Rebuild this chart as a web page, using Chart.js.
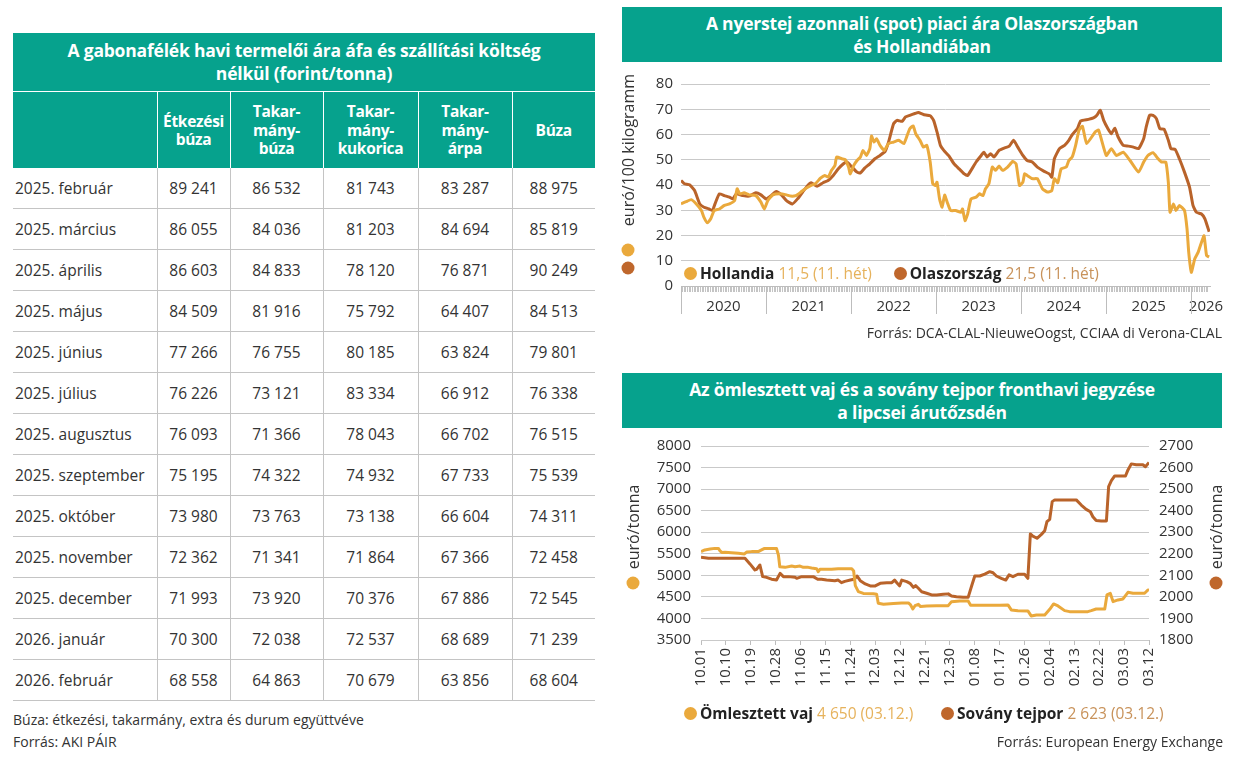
<!DOCTYPE html>
<html lang="hu">
<head>
<meta charset="utf-8">
<script src="https://cdn.jsdelivr.net/npm/chart.js@4.4.1/dist/chart.umd.min.js"></script>
<style>
  body { margin: 0; width: 1242px; height: 766px; background: #fff; position: relative; overflow: hidden;
         font-family: "Open Sans", "Noto Sans", sans-serif; color: #333; }
  .abs { position: absolute; }
  .band { position: absolute; background: #06a28d; color: #fff; font-weight: 700; text-align: center;
          display: flex; align-items: center; justify-content: center; font-size: 17.5px; line-height: 23px;
          letter-spacing: -0.2px; }
  table { position: absolute; left: 13px; top: 92px; border-collapse: collapse; table-layout: fixed; width: 582px; }
  th { background: #06a28d; color: #fff; font-weight: 700; font-size: 15.5px; line-height: 18.5px; height: 76px;
       padding: 0; border-left: 1.5px solid #fff; letter-spacing: -0.3px; }
  th:first-child { border-left: none; }
  td { height: 40px; padding: 0; font-size: 15.5px; text-align: center; border-bottom: 1px solid #c4c4c4;
       border-left: 1px solid #c4c4c4; white-space: nowrap; }
  td:first-child { text-align: left; padding-left: 2px; border-left: none; }
  .dot { position: absolute; width: 13px; height: 13px; border-radius: 50%; transform: translate(-50%, -50%); }
  .rot { position: absolute; transform: translate(-50%, -50%) rotate(-90deg); white-space: nowrap; font-size: 16px; }
  .legend { position: absolute; font-size: 15.5px; white-space: nowrap; line-height: 20px; }
  .legend b { color: #222; }
  .ldot { display: inline-block; width: 13px; height: 13px; border-radius: 50%; vertical-align: -1px; margin-right: 3px; }
  .note { position: absolute; font-size: 14px; white-space: nowrap; color: #333; }
</style>
</head>
<body>

<!-- left: table -->
<div class="band" style="left:13px;top:33px;width:582px;height:58px;">A gabonafélék havi termelői ára áfa és szállítási költség<br>nélkül (forint/tonna)</div>
<table id="grainTable"></table>
<div class="note" style="left:13px;top:710px;">Búza: étkezési, takarmány, extra és durum együttvéve</div>
<div class="note" style="left:13px;top:732px;">Forrás: AKI PÁIR</div>

<!-- right top: milk spot price -->
<div class="band" style="left:622px;top:7px;width:600px;height:55px;">A nyerstej azonnali (spot) piaci ára Olaszországban<br>és Hollandiában</div>
<canvas id="milkChart" class="abs" style="left:620px;top:66px;width:615px;height:262px;" width="615" height="262"></canvas>
<div class="rot" style="left:628px;top:150px;">euró/100 kilogramm</div>
<div class="dot" style="left:628px;top:250px;background:#eaa93c;"></div>
<div class="dot" style="left:628px;top:268px;background:#bf672c;"></div>
<div class="legend" style="left:684px;top:263px;">
  <span class="ldot" style="background:#eaa93c;"></span><b>Hollandia</b> <span style="color:#e6b25c;">11,5 (11. hét)</span>
  <span class="ldot" style="background:#bf672c;margin-left:18px;"></span><b>Olaszország</b> <span style="color:#c8925a;">21,5 (11. hét)</span>
</div>
<div class="note" style="right:20px;top:323px;">Forrás: DCA-CLAL-NieuweOogst, CCIAA di Verona-CLAL</div>

<!-- right bottom: butter & SMP -->
<div class="band" style="left:622px;top:373px;width:600px;height:55px;">Az ömlesztett vaj és a sovány tejpor fronthavi jegyzése<br>a lipcsei árutőzsdén</div>
<canvas id="dairyChart" class="abs" style="left:630px;top:426px;width:590px;height:280px;" width="590" height="280"></canvas>
<div class="rot" style="left:633px;top:527px;">euró/tonna</div>
<div class="dot" style="left:633px;top:583px;background:#eaa93c;"></div>
<div class="rot" style="left:1216px;top:527px;">euró/tonna</div>
<div class="dot" style="left:1216px;top:583px;background:#bf672c;"></div>
<div class="legend" style="left:684px;top:703px;">
  <span class="ldot" style="background:#eaa93c;"></span><b>Ömlesztett vaj</b> <span style="color:#e6b25c;">4 650 (03.12.)</span>
</div>
<div class="legend" style="left:941px;top:703px;">
  <span class="ldot" style="background:#bf672c;"></span><b>Sovány tejpor</b> <span style="color:#c8925a;">2 623 (03.12.)</span>
</div>
<div class="note" style="right:19px;top:732px;">Forrás: European Energy Exchange</div>

<script>
// ---- table data (forint/tonna) ----
const months = ['2025. február', '2025. március', '2025. április', '2025. május', '2025. június', '2025. július',
  '2025. augusztus', '2025. szeptember', '2025. október', '2025. november', '2025. december', '2026. január', '2026. február'];
const etkezesiBuza      = [89241, 86055, 86603, 84509, 77266, 76226, 76093, 75195, 73980, 72362, 71993, 70300, 68558];
const takarmanyBuza     = [86532, 84036, 84833, 81916, 76755, 73121, 71366, 74322, 73763, 71341, 73920, 72038, 64863];
const takarmanyKukorica = [81743, 81203, 78120, 75792, 80185, 83334, 78043, 74932, 73138, 71864, 70376, 72537, 70679];
const takarmanyArpa     = [83287, 84694, 76871, 64407, 63824, 66912, 66702, 67733, 66604, 67366, 67886, 68689, 63856];
const buza              = [88975, 85819, 90249, 84513, 79801, 76338, 76515, 75539, 74311, 72458, 72545, 71239, 68604];
const tableHeaders = ['', 'Étkezési<br>búza', 'Takar-<br>mány-<br>búza', 'Takar-<br>mány-<br>kukorica', 'Takar-<br>mány-<br>árpa', 'Búza'];
const colWidths = [144, 73, 93, 95, 94, 83];

// ---- milk spot price, euró/100 kg (x = year) ----
const hollYears = [2020.00, 2020.06, 2020.12, 2020.18, 2020.24, 2020.27, 2020.31, 2020.35, 2020.39, 2020.45, 2020.51, 2020.57,
  2020.63, 2020.66, 2020.69, 2020.74, 2020.80, 2020.88, 2020.94, 2020.98, 2021.02, 2021.08, 2021.16, 2021.24, 2021.29, 2021.35,
  2021.41, 2021.47, 2021.53, 2021.58, 2021.64, 2021.69, 2021.73, 2021.77, 2021.81, 2021.83, 2021.89, 2021.93, 2021.97, 2021.99,
  2022.03, 2022.07, 2022.11, 2022.14, 2022.18, 2022.22, 2022.24, 2022.27, 2022.30, 2022.34, 2022.39, 2022.44, 2022.50, 2022.56,
  2022.62, 2022.66, 2022.69, 2022.73, 2022.76, 2022.81, 2022.85, 2022.89, 2022.93, 2022.96, 2022.99, 2023.01, 2023.04, 2023.07,
  2023.10, 2023.13, 2023.17, 2023.23, 2023.29, 2023.31, 2023.34, 2023.37, 2023.41, 2023.47, 2023.51, 2023.55, 2023.58, 2023.62,
  2023.66, 2023.70, 2023.74, 2023.78, 2023.84, 2023.90, 2023.94, 2023.98, 2024.02, 2024.04, 2024.07, 2024.13, 2024.19, 2024.25,
  2024.31, 2024.36, 2024.39, 2024.43, 2024.47, 2024.53, 2024.56, 2024.60, 2024.64, 2024.68, 2024.72, 2024.77, 2024.87, 2024.91,
  2025.00, 2025.06, 2025.12, 2025.20, 2025.28, 2025.38, 2025.44, 2025.49, 2025.55, 2025.61, 2025.65, 2025.70, 2025.73, 2025.75,
  2025.79, 2025.82, 2025.86, 2025.92, 2025.95, 2025.97, 2026.00, 2026.04, 2026.08, 2026.12, 2026.15, 2026.18, 2026.21];
const hollValues = [32.5, 33.4, 34.2, 32.5, 29.9, 27.2, 25.0, 26.6, 29.9, 30.5, 31.9, 32.5,
  33.8, 38.5, 36.5, 36.9, 36.1, 35.8, 33.2, 30.5, 33.8, 36.1, 36.5, 36.1, 35.6, 35.8,
  37.2, 38.7, 39.8, 40.5, 42.7, 43.8, 43.1, 45.8, 47.7, 51.1, 50.4, 50.1, 47.1, 44.4,
  47.7, 49.7, 51.1, 53.7, 51.7, 54.4, 59.4, 57.0, 58.3, 55.7, 53.7, 56.4, 57.0, 57.7,
  56.4, 59.7, 62.3, 63.4, 60.3, 57.7, 55.0, 55.7, 49.1, 40.5, 39.8, 41.1, 34.5, 31.2,
  36.0, 33.2, 29.9, 29.9, 29.2, 30.5, 25.9, 28.5, 34.5, 35.2, 36.5, 35.8, 38.5, 40.5,
  47.1, 45.8, 47.5, 45.8, 47.1, 49.3, 48.4, 39.8, 41.1, 44.4, 43.8, 42.5, 42.5, 38.5,
  37.2, 37.8, 42.5, 40.9, 46.4, 47.1, 49.7, 51.1, 55.7, 61.7, 63.3, 56.4, 61.0, 61.7,
  51.7, 54.4, 51.7, 53.0, 49.7, 45.1, 49.1, 51.7, 52.8, 50.4, 49.1, 49.1, 41.1, 29.2,
  32.5, 29.9, 31.9, 29.9, 22.6, 13.3, 5.4, 10.7, 13.3, 17.3, 19.9, 12.0, 11.5];

const olaszYears = [2020.00, 2020.04, 2020.10, 2020.16, 2020.22, 2020.27, 2020.33, 2020.37, 2020.40, 2020.45, 2020.51, 2020.57,
  2020.61, 2020.65, 2020.73, 2020.80, 2020.88, 2020.94, 2021.00, 2021.06, 2021.12, 2021.18, 2021.24, 2021.31, 2021.37, 2021.43,
  2021.49, 2021.53, 2021.60, 2021.67, 2021.73, 2021.79, 2021.85, 2021.91, 2021.95, 2022.01, 2022.07, 2022.11, 2022.16, 2022.22,
  2022.28, 2022.34, 2022.40, 2022.44, 2022.50, 2022.54, 2022.60, 2022.64, 2022.69, 2022.75, 2022.79, 2022.85, 2022.93, 2022.97,
  2023.01, 2023.05, 2023.09, 2023.15, 2023.21, 2023.27, 2023.33, 2023.37, 2023.41, 2023.47, 2023.53, 2023.56, 2023.60, 2023.64,
  2023.68, 2023.74, 2023.80, 2023.86, 2023.91, 2023.96, 2024.02, 2024.07, 2024.13, 2024.19, 2024.27, 2024.33, 2024.36, 2024.39,
  2024.45, 2024.51, 2024.56, 2024.60, 2024.66, 2024.70, 2024.79, 2024.85, 2024.89, 2024.93, 2024.97, 2025.02, 2025.06, 2025.10,
  2025.14, 2025.20, 2025.26, 2025.32, 2025.38, 2025.44, 2025.47, 2025.51, 2025.55, 2025.59, 2025.63, 2025.68, 2025.73, 2025.76,
  2025.81, 2025.86, 2025.92, 2025.98, 2026.02, 2026.06, 2026.12, 2026.16, 2026.21];
const olaszValues = [41.8, 40.5, 40.1, 37.8, 32.5, 31.2, 30.5, 29.9, 32.5, 36.5, 35.8, 35.2,
  34.5, 36.5, 35.8, 35.6, 36.9, 36.1, 34.5, 35.8, 37.4, 36.1, 33.8, 32.5, 34.5, 37.2,
  39.8, 40.9, 39.5, 40.9, 41.8, 43.8, 46.4, 48.4, 49.1, 47.1, 45.1, 44.8, 46.7, 48.4,
  50.4, 51.7, 53.3, 57.0, 64.3, 65.6, 65.2, 67.0, 67.6, 68.3, 68.7, 67.9, 67.4, 65.6,
  61.0, 55.7, 53.7, 51.5, 48.4, 46.4, 44.4, 43.8, 45.8, 49.1, 51.7, 53.0, 51.1, 52.4,
  51.1, 53.7, 54.6, 55.4, 57.7, 55.0, 51.7, 49.7, 49.1, 47.1, 45.4, 44.4, 43.1, 50.4,
  54.4, 55.7, 57.7, 59.9, 62.3, 65.4, 66.0, 66.6, 67.6, 69.6, 65.6, 62.3, 60.3, 62.5,
  59.0, 55.7, 55.4, 55.0, 54.4, 58.3, 63.0, 67.6, 67.6, 66.3, 62.3, 62.1, 57.7, 54.4,
  54.1, 50.4, 45.1, 39.1, 31.9, 29.2, 28.5, 26.6, 21.5];
const yearLabels = ['2020', '2021', '2022', '2023', '2024', '2025', '2026'];

// ---- butter & skimmed milk powder, euró/tonna (x = day from 10.01) ----
const butterDays = [0, 1.4, 3.3, 5, 6.3, 6.9, 7.5, 8.7, 11, 13.5, 15.7, 16.5, 18.3, 20.7, 21.9, 23, 25, 27.3, 28, 28.5, 30.4,
  32.8, 34, 35.8, 37, 38.8, 40, 41.8, 42.4, 43, 44.8, 47.2, 49.6, 52, 54.5, 55.2, 55.8, 56.9, 58.7, 62.3, 63.5, 64.1, 66,
  69.6, 72.6, 75, 75.8, 76.6, 77.4, 78.6, 79.4, 81.6, 85.2, 89.4, 90.6, 93.6, 96.6, 97.5, 99.6, 104.4, 108, 111, 112.2,
  114.6, 118.2, 119.4, 121.3, 124.3, 126.1, 127.5, 129.1, 131.5, 133.3, 136.9, 139.9, 141.1, 142.9, 146, 146.8, 148, 149,
  150.8, 152.6, 154.4, 156.2, 158.6, 160.4, 161.6, 162];
const butterValues = [5550, 5590, 5610, 5625, 5625, 5565, 5530, 5535, 5525, 5510, 5495, 5540, 5550, 5550, 5590, 5625, 5625, 5625, 5470, 5200, 5185,
  5215, 5200, 5215, 5185, 5185, 5170, 5155, 5085, 5140, 5140, 5140, 5155, 5155, 5155, 5100, 4760, 4622, 4580, 4575, 4560, 4352, 4330,
  4345, 4360, 4360, 4313, 4220, 4295, 4328, 4275, 4290, 4297, 4297, 4390, 4406, 4406, 4305, 4305, 4305, 4305, 4313, 4197,
  4181, 4174, 4058, 4081, 4081, 4212, 4336, 4290, 4181, 4158, 4158, 4158, 4181, 4220, 4220, 4545, 4583, 4390,
  4429, 4452, 4606, 4583, 4583, 4583, 4661, 4650];

const smpDays = [0, 2.7, 9.9, 15.9, 17.7, 19.5, 20.1, 21.3, 22.3, 23.7, 25.5, 27.3, 28.6, 29.8, 31.6, 34, 34.6, 36.4, 40.6, 42.2,
  43.6, 45.4, 48.4, 49.6, 50.8, 52, 54, 55.4, 56.4, 57.6, 59.4, 61.2, 63, 64.8, 67.2, 69, 70, 70.8, 71.8, 72.6, 74.4, 75.6,
  76.8, 77.6, 78.6, 79.8, 81.6, 83.4, 85.2, 87.6, 89.4, 90.6, 92.4, 94.8, 96.6, 97.8, 99, 100.8, 102.6, 104.4, 105.6, 106.8,
  108.6, 110.2, 111.4, 112.8, 114.6, 117, 118.2, 119.1, 120, 121.5, 123.1, 124.3, 125.1, 126.1, 127, 127.9, 132.1, 135.7,
  137.5, 139.3, 140.8, 141.7, 142.9, 144.7, 146.6, 147.4, 148.4, 149.6, 151.4, 153.5, 154.4, 155.6, 157.4, 159.8, 160.7, 162];
const smpValues = [2184, 2179, 2179, 2179, 2153, 2125, 2128, 2148, 2094, 2091, 2082, 2078, 2109, 2094, 2094, 2091, 2086, 2094, 2094, 2082,
  2082, 2078, 2075, 2078, 2066, 2072, 2078, 2082, 2097, 2075, 2060, 2051, 2051, 2063, 2066, 2066, 2078, 2066, 2051, 2078, 2071, 2063,
  2044, 2052, 2040, 2024, 2017, 2009, 2009, 2012, 2014, 2004, 2001, 1998, 1998, 2048, 2097, 2097, 2106, 2117, 2112, 2097,
  2086, 2078, 2102, 2094, 2105, 2105, 2086, 2292, 2282, 2272, 2290, 2307, 2349, 2360, 2442, 2450, 2450, 2450,
  2426, 2406, 2395, 2372, 2354, 2352, 2352, 2511, 2539, 2561, 2561, 2561, 2589, 2617, 2613, 2613, 2604, 2623];
const dayTicks = [0, 9, 18, 27, 36, 45, 54, 63, 72, 81, 90, 99, 108, 117, 126, 135, 144, 153, 162];
const dayTickLabels = ['10.01', '10.10', '10.19', '10.28', '11.06', '11.15', '11.24', '12.03', '12.12', '12.21', '12.30',
  '01.08', '01.17', '01.26', '02.04', '02.13', '02.22', '03.03', '03.12'];

const yellow = '#eaa93c';
const brown = '#b9632a';
const gridColor = '#c9c9c9';
const tickFont = { family: '"Open Sans", sans-serif', size: 15 };

// build the table
const fmt = n => String(n).replace(/\B(?=(\d{3})+(?!\d))/g, ' ');
const table = document.getElementById('grainTable');
let html = '<colgroup>' + colWidths.map(w => `<col style="width:${w}px">`).join('') + '</colgroup>';
html += '<tr>' + tableHeaders.map(h => `<th>${h}</th>`).join('') + '</tr>';
months.forEach((m, i) => {
    html += `<tr><td>${m}</td><td>${fmt(etkezesiBuza[i])}</td><td>${fmt(takarmanyBuza[i])}</td>` +
        `<td>${fmt(takarmanyKukorica[i])}</td><td>${fmt(takarmanyArpa[i])}</td><td>${fmt(buza[i])}</td></tr>`;
});
table.innerHTML = html;

const toPoints = (xs, ys) => xs.map((x, i) => ({ x, y: ys[i] }));

// weekly ticks under the milk chart, labels in the middle of each year
const weekTicks = [];
const weekLabels = [];
for (let k = 0; k <= 322; k++) {
    weekTicks.push(2020 + k / 52);
    let lab = '';
    if (k % 52 === 26 && k < 312) lab = yearLabels[Math.floor(k / 52)];
    if (k === 321) lab = yearLabels[6];
    weekLabels.push(lab);
}

const yearDividers = {
    id: 'yearDividers',
    afterDraw(chart) {
        const { ctx, chartArea, scales: { x } } = chart;
        ctx.save();
        ctx.strokeStyle = '#bdbdbd';
        ctx.lineWidth = 1;
        for (let y = 2020; y <= 2026; y++) {
            const px = Math.round(x.getPixelForValue(y)) + 0.5;
            ctx.beginPath();
            ctx.moveTo(px, chartArea.bottom);
            ctx.lineTo(px, chartArea.bottom + 28);
            ctx.stroke();
        }
        ctx.restore();
    }
};

new Chart(document.getElementById('milkChart'), {
    type: 'line',
    data: {
        datasets: [
            { label: 'Hollandia', data: toPoints(hollYears, hollValues), borderColor: yellow, borderWidth: 3, pointRadius: 0, tension: 0.15, borderJoinStyle: 'round' },
            { label: 'Olaszország', data: toPoints(olaszYears, olaszValues), borderColor: brown, borderWidth: 3, pointRadius: 0, tension: 0.15, borderJoinStyle: 'round' }
        ]
    },
    options: {
        responsive: false,
        animation: false,
        layout: { padding: { top: 18, right: 25, left: 0, bottom: 0 } },
        plugins: { legend: { display: false }, tooltip: { enabled: false } },
        scales: {
            x: {
                type: 'linear', min: 2020, max: 2026.22,
                afterBuildTicks: s => { s.ticks = weekTicks.map(v => ({ value: v })); },
                afterFit: s => { s.height = 42; },
                grid: { drawOnChartArea: false, drawTicks: true, tickLength: 6, color: '#c4c4c4' },
                border: { display: true, color: '#bdbdbd' },
                ticks: { autoSkip: false, maxRotation: 0, minRotation: 0, padding: 6, color: '#333', font: tickFont,
                         callback: (v, i) => weekLabels[i] }
            },
            y: {
                min: 0, max: 80,
                afterFit: s => { s.width = 61; },
                grid: { color: gridColor, drawTicks: false },
                border: { display: false },
                ticks: { stepSize: 10, padding: 8, color: '#333', font: tickFont, autoSkip: false }
            }
        }
    },
    plugins: [yearDividers]
});

new Chart(document.getElementById('dairyChart'), {
    type: 'line',
    data: {
        datasets: [
            { label: 'Ömlesztett vaj', data: toPoints(butterDays, butterValues), yAxisID: 'y', borderColor: yellow, borderWidth: 3, pointRadius: 0, borderJoinStyle: 'round' },
            { label: 'Sovány tejpor', data: toPoints(smpDays, smpValues), yAxisID: 'y2', borderColor: brown, borderWidth: 3, pointRadius: 0, borderJoinStyle: 'round' }
        ]
    },
    options: {
        responsive: false,
        animation: false,
        layout: { padding: { top: 20, right: 0, left: 0, bottom: 0 } },
        plugins: { legend: { display: false }, tooltip: { enabled: false } },
        scales: {
            x: {
                type: 'linear', min: 0, max: 162,
                afterBuildTicks: s => { s.ticks = dayTicks.map(v => ({ value: v })); },
                afterFit: s => { s.height = 66; },
                grid: { drawOnChartArea: false, drawTicks: true, tickLength: 5, color: '#bdbdbd' },
                border: { display: false },
                ticks: { autoSkip: false, maxRotation: 90, minRotation: 90, padding: 3, color: '#333', font: tickFont,
                         callback: (v, i) => dayTickLabels[i] }
            },
            y: {
                position: 'left', min: 3500, max: 8000,
                afterFit: s => { s.width = 71; },
                grid: { color: gridColor, drawTicks: false },
                border: { display: false },
                ticks: { stepSize: 500, padding: 10, color: '#333', font: tickFont, autoSkip: false, callback: v => String(v) }
            },
            y2: {
                position: 'right', min: 1800, max: 2700,
                afterFit: s => { s.width = 71; },
                grid: { drawOnChartArea: false, drawTicks: false },
                border: { display: false },
                ticks: { stepSize: 100, padding: 10, color: '#333', font: tickFont, autoSkip: false, callback: v => String(v) }
            }
        }
    }
});
</script>
</body>
</html>
